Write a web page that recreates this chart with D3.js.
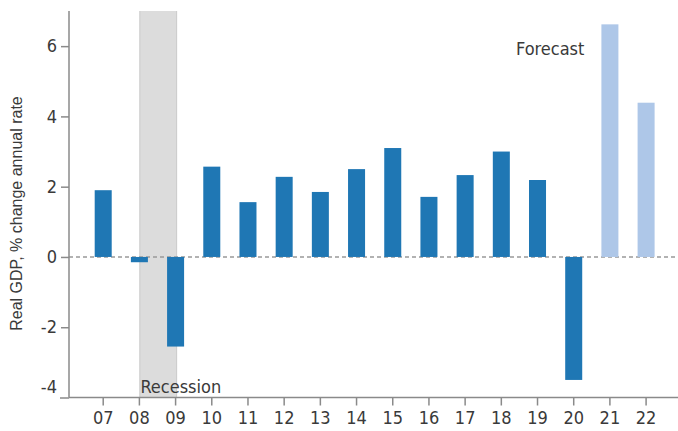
<!DOCTYPE html>
<html>
<head>
<meta charset="utf-8">
<script src="https://cdn.jsdelivr.net/npm/d3@7"></script>
<style>
  html, body { margin: 0; padding: 0; background: #fff; }
  svg { display: block; }
</style>
</head>
<body>
<svg id="chart" width="678" height="431"></svg>
<script>
// ---- data ----
const years = ["07","08","09","10","11","12","13","14","15","16","17","18","19","20","21","22"];
const growth = [1.9, -0.15, -2.55, 2.57, 1.56, 2.28, 1.85, 2.5, 3.1, 1.71, 2.33, 3.0, 2.19, -3.5, 6.62, 4.39];
const forecastYears = ["21","22"];
const recession = ["08","09"];
const yTicks = [-4, -2, 0, 2, 4, 6];
const yLabel = "Real GDP, % change annual rate";

// ---- layout ----
const svg = d3.select("#chart");
const W = 678, H = 431;
const plotLeft = 69, plotTop = 11, plotBottom = 397.5;

const y = d3.scaleLinear().domain([-4, 7]).range([plotBottom, plotTop]);
const x = d3.scaleBand().domain(years).range([plotLeft, 680.3]).paddingInner(0.53).paddingOuter(0.71);
const bw = x.bandwidth();

// recession band
const rx0 = x(recession[0]) + bw / 2;
const rx1 = x(recession[1]) + bw / 2 + 1.5;
svg.append("rect")
  .attr("x", rx0).attr("y", plotTop)
  .attr("width", rx1 - rx0).attr("height", plotBottom - plotTop)
  .attr("fill", "#dcdcdc");
svg.append("line").attr("x1", rx0 + 0.5).attr("x2", rx0 + 0.5).attr("y1", plotTop).attr("y2", plotBottom)
  .attr("stroke", "#cccccc").attr("stroke-width", 1);
svg.append("line").attr("x1", rx1 - 0.5).attr("x2", rx1 - 0.5).attr("y1", plotTop).attr("y2", plotBottom)
  .attr("stroke", "#cccccc").attr("stroke-width", 1);

// zero line
svg.append("line")
  .attr("x1", plotLeft).attr("x2", W)
  .attr("y1", y(0)).attr("y2", y(0))
  .attr("stroke", "#999").attr("stroke-width", 1.5)
  .attr("stroke-dasharray", "4,3");

// bars
svg.append("g").selectAll("rect")
  .data(years.map((yr, i) => ({ yr, v: growth[i] })))
  .join("rect")
  .attr("x", d => x(d.yr))
  .attr("width", bw)
  .attr("y", d => y(Math.max(0, d.v)))
  .attr("height", d => Math.abs(y(d.v) - y(0)))
  .attr("fill", d => forecastYears.includes(d.yr) ? "#aec7e8" : "#1f77b4");

// axes
const axisColor = "#8a8a8a";
const textColor = "#3a3a3a";
const tickFont = "'DejaVu Sans Condensed', 'DejaVu Sans', sans-serif";
const fs = "18px";

const yAxis = svg.append("g")
  .attr("transform", `translate(${plotLeft},0)`)
  .call(d3.axisLeft(y).tickValues(yTicks).tickSize(8).tickPadding(4).tickFormat(d => String(d)));
yAxis.select(".domain").remove();
yAxis.append("line").attr("x1", 0).attr("x2", 0).attr("y1", plotTop).attr("y2", plotBottom)
  .attr("stroke", axisColor).attr("stroke-width", 1.5);
yAxis.selectAll(".tick line").attr("stroke", axisColor).attr("stroke-width", 1.5);
yAxis.selectAll(".tick text")
  .attr("fill", textColor).style("font-family", tickFont).style("font-size", fs);
yAxis.selectAll(".tick").filter(d => d === -4).select("text").attr("dy", "-0.3em");
yAxis.selectAll(".tick").filter(d => d === -4).select("line").attr("x2", -9);

const xAxis = svg.append("g")
  .attr("transform", `translate(0,${plotBottom})`)
  .call(d3.axisBottom(x).tickSize(8).tickPadding(6));
xAxis.select(".domain").remove();
xAxis.append("line").attr("x1", plotLeft).attr("x2", W).attr("y1", 0).attr("y2", 0)
  .attr("stroke", axisColor).attr("stroke-width", 1.5);
xAxis.selectAll(".tick line").attr("stroke", axisColor).attr("stroke-width", 1.5);
xAxis.selectAll(".tick text")
  .attr("fill", textColor).style("font-family", tickFont).style("font-size", fs);

// annotations
svg.append("text")
  .attr("x", x(recession[0]) + bw / 2 + 1).attr("y", 393)
  .attr("fill", textColor)
  .style("font-family", tickFont).style("font-size", fs)
  .text("Recession");

svg.append("text")
  .attr("x", x(forecastYears[0]) - 17).attr("y", 55)
  .attr("text-anchor", "end")
  .attr("fill", textColor)
  .style("font-family", tickFont).style("font-size", fs)
  .text("Forecast");

// y label
svg.append("text")
  .attr("transform", `translate(22,${(95 + 332) / 2}) rotate(-90)`)
  .attr("text-anchor", "middle")
  .attr("fill", textColor)
  .style("font-family", "'Liberation Sans', Arial, sans-serif").style("font-size", "16px")
  .text(yLabel);
</script>
</body>
</html>
